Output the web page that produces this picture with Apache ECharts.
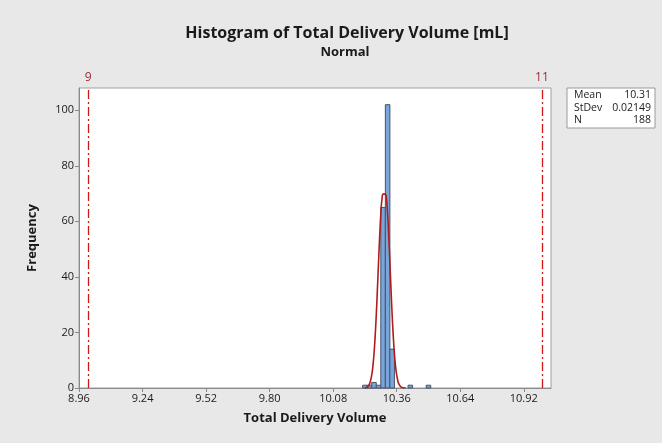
<!DOCTYPE html>
<html>
<head>
<meta charset="utf-8">
<script src="https://cdn.jsdelivr.net/npm/echarts@6/dist/echarts.min.js"></script>
<style>
html,body{margin:0;padding:0;background:#e8e8e8;}
#c{width:662px;height:443px;}
</style>
</head>
<body>
<div id="c"></div>
<script>
// Histogram bins (centers) and counts, bin width 0.02
const binCenters = [10.22, 10.24, 10.26, 10.28, 10.30, 10.32, 10.34, 10.42, 10.50];
const binCounts  = [1, 1, 2, 1, 65, 102, 14, 1, 1];
const binWidth = 0.02;

// Fitted normal curve
const curveX = [10.22,10.23,10.24,10.25,10.255,10.26,10.265,10.27,10.275,10.28,10.285,10.29,10.295,10.30,10.305,10.31,10.315,10.32,10.325,10.33,10.335,10.34,10.345,10.35,10.355,10.36,10.365,10.37,10.38,10.39,10.40];
const curveY = [0.07,0.35,1.4,4.7,7.8,12.3,18.5,26.3,35.5,45.3,54.7,62.6,67.9,69.8,69.8,69.8,67.9,62.6,54.7,45.3,35.5,26.3,18.5,12.3,7.8,4.7,2.6,1.4,0.35,0.07,0];

// Specification lines
const specValues = [9, 11];
const specLabels = ['9', '11'];

// Stats box
const statNames = ['Mean', 'StDev', 'N'];
const statValues = ['10.31', '0.02149', '188'];

const xTicksMin = 8.96, xTicksMax = 11.04, xInterval = 0.28;
const yMax = 108, yInterval = 20;

const chart = echarts.init(document.getElementById('c'));
const FONT = '"Open Sans", "Noto Sans", sans-serif';

const histData = binCenters.map((c, i) => [c - binWidth / 2, c + binWidth / 2, binCounts[i]]);
const curveData = curveX.map((x, i) => [x, curveY[i]]);

const statGraphics = [];
statGraphics.push({type:'rect', shape:{x:567, y:88, width:88, height:40}, style:{fill:'#fff', stroke:'#9a9a9a', lineWidth:1}});
statNames.forEach((n, i) => {
  statGraphics.push({type:'text', x:574, y:95.5 + i*12.5, style:{text:n, font:'10.5px ' + FONT, fill:'#1a1a1a', textVerticalAlign:'middle'}});
  statGraphics.push({type:'text', x:651, y:95.5 + i*12.5, style:{text:statValues[i], font:'10.5px ' + FONT, fill:'#1a1a1a', textAlign:'right', textVerticalAlign:'middle'}});
});

chart.setOption({
  backgroundColor: '#e8e8e8',
  animation: false,
  title: [
    {text:'Histogram of Total Delivery Volume [mL]', left:342, top:20, textAlign:'center',
     textStyle:{fontFamily:FONT, fontSize:16, fontWeight:'bold', color:'#1a1a1a'}},
    {text:'Normal', left:340, top:41, textAlign:'center',
     textStyle:{fontFamily:FONT, fontSize:13, fontWeight:'bold', color:'#1a1a1a'}}
  ],
  grid: {left:79, right:111, top:88, bottom:55, show:true, backgroundColor:'#fff', borderColor:'#a0a0a0', borderWidth:1},
  xAxis: {
    type:'value', min:xTicksMin, max:xTicksMax, interval:xInterval,
    name:'Total Delivery Volume', nameLocation:'middle', nameGap:24,
    nameTextStyle:{fontFamily:FONT, fontSize:13, fontWeight:'bold', color:'#1a1a1a'},
    axisLine:{show:true, lineStyle:{color:'#8a8a8a'}},
    axisTick:{show:true, length:4, lineStyle:{color:'#8a8a8a'}},
    axisLabel:{fontFamily:FONT, fontSize:11, color:'#1a1a1a', margin:5, showMaxLabel:false,
      formatter:v => Number(v).toFixed(2)},
    splitLine:{show:false}
  },
  yAxis: {
    type:'value', min:0, max:yMax, interval:yInterval,
    name:'Frequency', nameLocation:'middle', nameGap:40, nameRotate:90,
    nameTextStyle:{fontFamily:FONT, fontSize:13, fontWeight:'bold', color:'#1a1a1a'},
    axisLine:{show:true, lineStyle:{color:'#8a8a8a'}},
    axisTick:{show:true, length:4, lineStyle:{color:'#8a8a8a'}},
    axisLabel:{fontFamily:FONT, fontSize:11, color:'#1a1a1a', margin:5, showMaxLabel:false},
    splitLine:{show:false}
  },
  graphic: statGraphics,
  series: [
    {
      type:'custom',
      data: histData,
      encode:{x:[0,1], y:2},
      renderItem: function(params, api) {
        const p0 = api.coord([api.value(0), api.value(2)]);
        const p1 = api.coord([api.value(1), 0]);
        return {type:'rect', shape:{x:p0[0], y:p0[1], width:p1[0]-p0[0], height:p1[1]-p0[1]},
          style:{fill:'#79a5da', stroke:'#44546a', lineWidth:1}};
      },
      z:2
    },
    {
      type:'line', data: curveData, showSymbol:false, smooth:true,
      lineStyle:{color:'#b01c1c', width:1.6}, z:3,
      markLine:{
        symbol:'none', silent:true,
        lineStyle:{color:'#d01818', width:1.3, type:[9,3,2,3]},
        label:{show:true, position:'end', distance:4, fontFamily:FONT, fontSize:12, color:'#a02a3a',
          formatter: p => specLabels[specValues.indexOf(p.value)]},
        data: specValues.map(v => ({xAxis:v}))
      }
    }
  ]
});
</script>
</body>
</html>
